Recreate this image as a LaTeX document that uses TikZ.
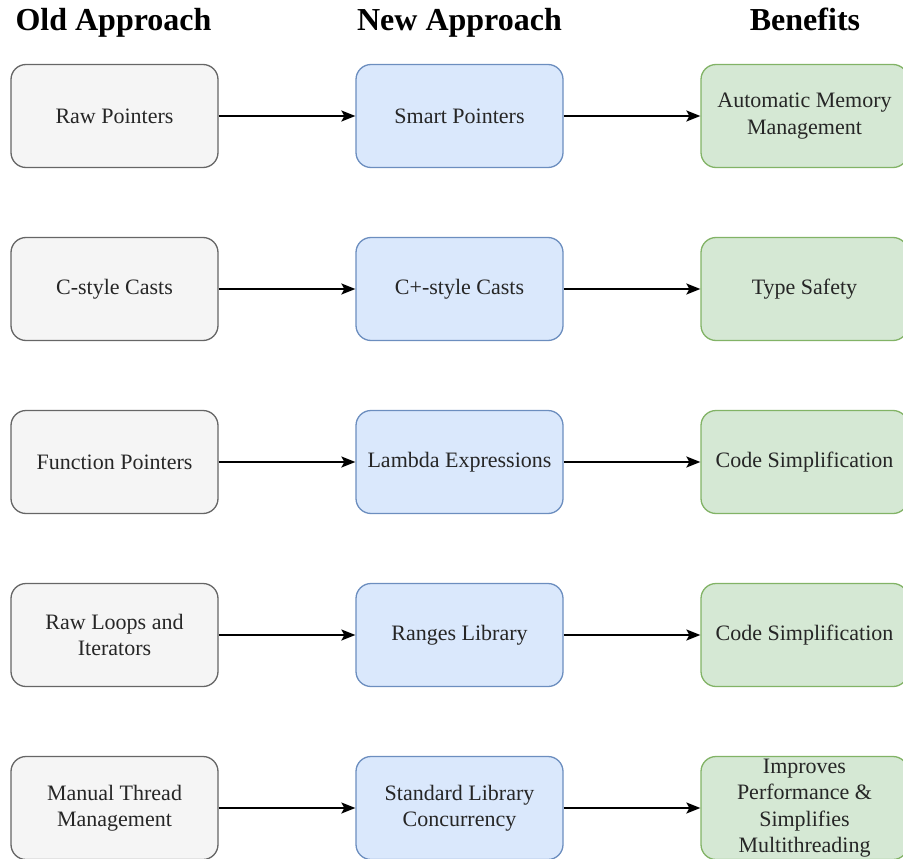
\documentclass[tikz,border=0pt]{standalone}
\usepackage{fontspec}
\setmainfont{Liberation Serif}
\usetikzlibrary{arrows.meta}
\definecolor{oldfill}{HTML}{F5F5F5}
\definecolor{olddraw}{HTML}{666666}
\definecolor{newfill}{HTML}{DAE8FC}
\definecolor{newdraw}{HTML}{6C8EBF}
\definecolor{benfill}{HTML}{D5E8D4}
\definecolor{bendraw}{HTML}{82B366}
\begin{document}
\begin{tikzpicture}[x=1pt,y=-1pt,
  box/.style={rounded corners=15pt, line width=1.3pt, minimum width=207pt, minimum height=103pt,
    align=center, inner sep=0pt, font=\fontsize{22}{26.5}\selectfont, text=black!85},
  oldbox/.style={box, fill=oldfill, draw=olddraw},
  newbox/.style={box, fill=newfill, draw=newdraw},
  benbox/.style={box, fill=benfill, draw=bendraw},
  title/.style={font=\fontsize{32}{38}\selectfont\bfseries, inner sep=0pt, anchor=base},
  conn/.style={line width=1.6pt, -{Stealth[length=14pt,width=11pt,inset=3pt]}}]
\useasboundingbox (0,0) rectangle (903,859);
\clip (0,0) rectangle (903,859);
\node[title] (t1) at (113.5,31) {Old Approach};
\node[title] (t2) at (459.5,31) {New Approach};
\node[title] (t3) at (805,31) {Benefits};
\foreach \i/\y/\a/\b/\c in {
  1/116/{Raw Pointers}/{Smart Pointers}/{Automatic Memory\\Management},
  2/289/{C-style Casts}/{C+-style Casts}/{Type Safety},
  3/462/{Function Pointers}/{Lambda Expressions}/{Code Simplification},
  4/635/{Raw Loops and\\Iterators}/{Ranges Library}/{Code Simplification},
  5/808/{Manual Thread\\Management}/{Standard Library\\Concurrency}/{Improves\\Performance \&\\Simplifies\\Multithreading}}{
  \node[oldbox] (o\i) at (114.5,\y) {\a};
  \node[newbox] (n\i) at (459.5,\y) {\b};
  \node[benbox] (b\i) at (804.5,\y) {\c};
  \draw[conn] (o\i) -- (n\i);
  \draw[conn] (n\i) -- (b\i);
}
\end{tikzpicture}
\end{document}
